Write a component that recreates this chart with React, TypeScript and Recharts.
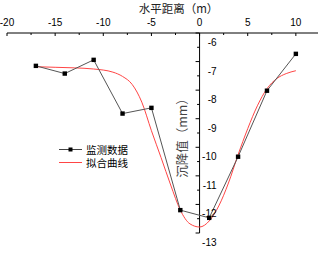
import {
  ComposedChart,
  Legend,
  Line,
  ReferenceDot,
  ReferenceLine,
  XAxis,
  YAxis,
} from "recharts";

// monitoring points (x in m, settlement in mm)
const measuredX = [-17, -14, -11, -8, -5, -2, 1, 4, 7, 10];
const measuredY = [-7.15, -7.42, -6.94, -8.82, -8.62, -12.2, -12.47, -10.33, -8.02, -6.73];

// fitted curve
const fitX = [-17, -15, -13, -11, -9, -8, -7, -6, -5, -4, -3, -2, -1, 0, 1, 2, 3, 4, 5, 6, 7, 8, 9, 10];
const fitY = [
  -7.18, -7.2, -7.22, -7.26, -7.37, -7.52, -7.8, -8.42, -9.42, -10.36, -11.32, -12.2,
  -12.68, -12.79, -12.58, -12.05, -11.25, -10.26, -9.35, -8.55, -7.95, -7.6, -7.42, -7.32,
];

const xTicks = [-20, -17.5, -15, -12.5, -10, -7.5, -5, -2.5, 0, 2.5, 5, 7.5, 10];
const yTicks = [-13, -12.5, -12, -11.5, -11, -10.5, -10, -9.5, -9, -8.5, -8, -7.5, -7, -6.5, -6];

const xTitle = "水平距离（m）";
const yTitle = "沉降值（mm）";
const measuredName = "监测数据";
const fitName = "拟合曲线";

const measured = measuredX.map((x, i) => ({ x, y: measuredY[i] }));
const fitted = fitX.map((x, i) => ({ x, y: fitY[i] }));

const numFont = "'Liberation Sans', Arial, sans-serif";
const cjkFont = "'Noto Sans CJK SC', sans-serif";

function XTick({ x, y, payload }: any) {
  const major = payload.value % 5 === 0;
  return (
    <g>
      <line x1={x} y1={y} x2={x} y2={y + (major ? 3 : 2)} stroke="#000" strokeWidth={1} />
      {major && (
        <text x={x} y={y - 7} textAnchor="middle" fontSize={10} fontFamily={numFont} fill="#000">
          {payload.value}
        </text>
      )}
    </g>
  );
}

function YTick({ cx, cy, value }: any) {
  const major = Number.isInteger(value);
  return (
    <g>
      <line x1={cx - (major ? 4 : 2.5)} y1={cy} x2={cx} y2={cy} stroke="#000" strokeWidth={1} />
      {major && (
        <text x={cx + 17} y={cy + 13} textAnchor="end" fontSize={10} fontFamily={numFont} fill="#000">
          {value}
        </text>
      )}
    </g>
  );
}

function SquareDot({ cx, cy, index }: any) {
  return <rect key={index} x={cx - 2.2} y={cy - 2.2} width={4.4} height={4.4} fill="#000" />;
}

const labelStyle = {
  display: "inline-block",
  marginLeft: 3,
  height: 13,
  lineHeight: "13px",
  overflow: "hidden",
} as const;

function LegendBox() {
  return (
    <div style={{ fontFamily: cjkFont, fontSize: 10.5, color: "#000", lineHeight: "13px" }}>
      <div style={{ display: "flex", alignItems: "center", height: 13 }}>
        <svg width={24} height={13}>
          <line x1={0} y1={6.5} x2={23} y2={6.5} stroke="#444" strokeWidth={1} />
          <rect x={9.5} y={4.5} width={4} height={4} fill="#000" />
        </svg>
        <span style={labelStyle}>{measuredName}</span>
      </div>
      <div style={{ display: "flex", alignItems: "center", height: 13 }}>
        <svg width={24} height={13}>
          <line x1={0} y1={6.5} x2={23} y2={6.5} stroke="#ff4545" strokeWidth={1} />
        </svg>
        <span style={labelStyle}>{fitName}</span>
      </div>
    </div>
  );
}

export default function App() {
  return (
    <div style={{ position: "absolute", left: 0, top: 0, background: "#fff" }}>
      <ComposedChart width={322} height={275} margin={{ top: 3, right: 4, bottom: 16, left: 7 }}>
        <XAxis
          xAxisId={0}
          type="number"
          dataKey="x"
          orientation="top"
          domain={[-20, 12.3]}
          ticks={xTicks}
          interval={0}
          height={30}
          tickSize={0}
          tickMargin={0}
          tickLine={false}
          axisLine={{ stroke: "#000", strokeWidth: 1 }}
          tick={<XTick />}
          allowDataOverflow
          label={{
            content: ({ viewBox }: any) => (
              <text
                x={viewBox.x + viewBox.width / 2 + 16}
                y={viewBox.y + 9.5}
                textAnchor="middle"
                fontSize={11.5}
                fontFamily={cjkFont}
                fill="#222"
              >
                {xTitle}
              </text>
            ),
          }}
        />
        <YAxis yAxisId={0} type="number" hide domain={[-13, -6]} allowDataOverflow />
        <ReferenceLine
          x={0}
          stroke="#000"
          strokeWidth={1}
          label={{
            content: ({ viewBox }: any) => {
              const cx = viewBox.x - 18;
              const cy = viewBox.y + viewBox.height / 2 + 2;
              return (
                <text
                  x={cx}
                  y={cy}
                  transform={`rotate(-90 ${cx} ${cy})`}
                  textAnchor="middle"
                  dominantBaseline="central"
                  fontSize={12.5}
                  fontFamily={cjkFont}
                  fill="#444"
                >
                  {yTitle}
                </text>
              );
            },
          }}
        />
        {yTicks.map((v) => (
          <ReferenceDot
            key={v}
            x={0}
            y={v}
            r={0}
            ifOverflow="visible"
            shape={(p: any) => <YTick {...p} value={v} />}
          />
        ))}
        <Line
          data={fitted}
          dataKey="y"
          name={fitName}
          type="monotone"
          stroke="#ff4545"
          strokeWidth={1}
          dot={false}
          activeDot={false}
          isAnimationActive={false}
        />
        <Line
          data={measured}
          dataKey="y"
          name={measuredName}
          type="linear"
          stroke="#555"
          strokeWidth={1}
          dot={<SquareDot />}
          activeDot={false}
          isAnimationActive={false}
        />
        <Legend
          content={<LegendBox />}
          wrapperStyle={{ position: "absolute", left: 59, top: 143, width: "auto" }}
        />
      </ComposedChart>
    </div>
  );
}
